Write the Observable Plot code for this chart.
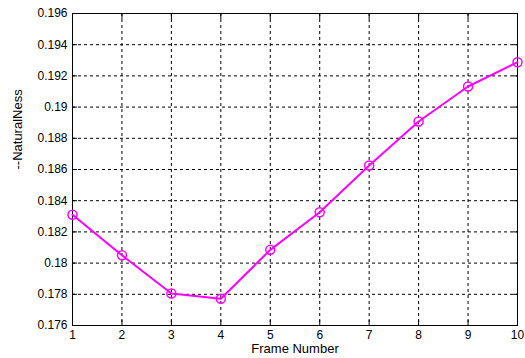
<!DOCTYPE html>
<html><head><meta charset="utf-8">
<script src="https://cdn.jsdelivr.net/npm/d3@7"></script>
<script src="https://cdn.jsdelivr.net/npm/@observablehq/plot@0.6"></script>
<style>body{margin:0;background:#fff;} svg{font-family:"Liberation Sans",Arial,sans-serif;}</style>
</head><body><div id="chart"></div>
<script>
const frames = [1,2,3,4,5,6,7,8,9,10];
const naturalness = [0.1831,0.1805,0.17805,0.17771,0.18085,0.18326,0.18626,0.18908,0.19132,0.19288];
const xTicks = [1,2,3,4,5,6,7,8,9,10];
const yTicks = [0.176,0.178,0.18,0.182,0.184,0.186,0.188,0.19,0.192,0.194,0.196];
const yTickLabels = ["0.176","0.178","0.18","0.182","0.184","0.186","0.188","0.19","0.192","0.194","0.196"];
const data = frames.map((f,i)=>({f, v: naturalness[i]}));

const chart = Plot.plot({
  width: 525, height: 358,
  marginLeft: 72, marginRight: 8, marginTop: 13, marginBottom: 33,
  x: {domain: [1,10]},
  y: {domain: [0.176,0.196]},
  style: {fontSize: "12px", fontFamily: "Liberation Sans, Arial, sans-serif", color: "#000"},
  marks: [
    Plot.gridX(xTicks.slice(1,-1), {stroke: "#000", strokeOpacity: 1, strokeDasharray: "3,3", strokeWidth: 1}),
    Plot.gridY(yTicks.slice(1,-1), {stroke: "#000", strokeOpacity: 1, strokeDasharray: "3,3", strokeWidth: 1}),
    Plot.axisX(xTicks, {anchor: "bottom", tickSize: 0, tickPadding: 5, label: null, fontSize: 12}),
    Plot.axisX(xTicks, {anchor: "bottom", tickSize: -5, text: null, label: null}),
    Plot.axisX(xTicks, {anchor: "top", tickSize: -5, text: null, label: null}),
    Plot.axisY(yTicks, {anchor: "left", tickSize: 0, tickPadding: 5, label: null, tickFormat: (d,i)=>yTickLabels[i], fontSize: 12}),
    Plot.axisY(yTicks, {anchor: "left", tickSize: -5, text: null, label: null}),
    Plot.axisY(yTicks, {anchor: "right", tickSize: -5, text: null, label: null}),
    Plot.frame({stroke: "#000", strokeWidth: 1}),
    Plot.line(data, {x: "f", y: "v", stroke: "#ff00ff", strokeWidth: 2}),
    Plot.dot(data, {x: "f", y: "v", stroke: "#ff00ff", r: 4.5, strokeWidth: 1.5, fill: "none"}),
    Plot.text(["Frame Number"], {frameAnchor: "bottom", dy: 27, fontSize: 13}),
    Plot.text(["--NaturalNess"], {frameAnchor: "left", dx: -55, rotate: -90, fontSize: 13})
  ]
});
document.getElementById("chart").appendChild(chart);
</script>
</body></html>
